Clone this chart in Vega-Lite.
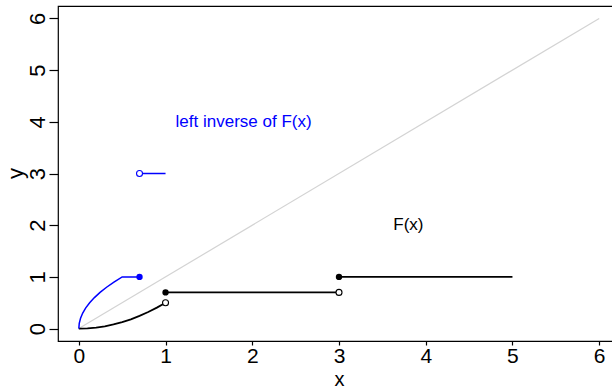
{
  "$schema": "https://vega.github.io/schema/vega-lite/v6.json",
  "autosize": "none",
  "width": 562,
  "height": 335,
  "padding": {"left": 58, "top": 6, "right": 0, "bottom": 48},
  "background": "white",
  "config": {
    "font": "Liberation Sans",
    "view": {"stroke": "black", "strokeWidth": 1.2}
  },
  "datasets": {
    "diag": [{"x": 0, "y": 0}, {"x": 6, "y": 6}],
    "curves": [
      {"x": 0, "y": 0, "series": "F", "piece": "F1"},
      {"x": 0.1, "y": 0.005, "series": "F", "piece": "F1"},
      {"x": 0.2, "y": 0.02, "series": "F", "piece": "F1"},
      {"x": 0.3, "y": 0.045, "series": "F", "piece": "F1"},
      {"x": 0.4, "y": 0.08, "series": "F", "piece": "F1"},
      {"x": 0.5, "y": 0.125, "series": "F", "piece": "F1"},
      {"x": 0.6, "y": 0.18, "series": "F", "piece": "F1"},
      {"x": 0.7, "y": 0.245, "series": "F", "piece": "F1"},
      {"x": 0.8, "y": 0.32, "series": "F", "piece": "F1"},
      {"x": 0.9, "y": 0.405, "series": "F", "piece": "F1"},
      {"x": 1.0, "y": 0.5, "series": "F", "piece": "F1"},
      {"x": 1, "y": 0.7, "series": "F", "piece": "F2"},
      {"x": 3, "y": 0.7, "series": "F", "piece": "F2"},
      {"x": 3, "y": 1, "series": "F", "piece": "F3"},
      {"x": 5, "y": 1, "series": "F", "piece": "F3"},
      {"x": 0, "y": 0, "series": "left inverse", "piece": "G1"},
      {"x": 0.005, "y": 0.1, "series": "left inverse", "piece": "G1"},
      {"x": 0.02, "y": 0.2, "series": "left inverse", "piece": "G1"},
      {"x": 0.045, "y": 0.3, "series": "left inverse", "piece": "G1"},
      {"x": 0.08, "y": 0.4, "series": "left inverse", "piece": "G1"},
      {"x": 0.125, "y": 0.5, "series": "left inverse", "piece": "G1"},
      {"x": 0.18, "y": 0.6, "series": "left inverse", "piece": "G1"},
      {"x": 0.245, "y": 0.7, "series": "left inverse", "piece": "G1"},
      {"x": 0.32, "y": 0.8, "series": "left inverse", "piece": "G1"},
      {"x": 0.405, "y": 0.9, "series": "left inverse", "piece": "G1"},
      {"x": 0.5, "y": 1.0, "series": "left inverse", "piece": "G1"},
      {"x": 0.7, "y": 1.0, "series": "left inverse", "piece": "G1"},
      {"x": 0.7, "y": 3, "series": "left inverse", "piece": "G2"},
      {"x": 1.0, "y": 3, "series": "left inverse", "piece": "G2"}
    ],
    "points": [
      {"x": 1, "y": 0.5, "series": "F", "closed": false},
      {"x": 1, "y": 0.7, "series": "F", "closed": true},
      {"x": 3, "y": 0.7, "series": "F", "closed": false},
      {"x": 3, "y": 1, "series": "F", "closed": true},
      {"x": 0.7, "y": 1, "series": "left inverse", "closed": true},
      {"x": 0.7, "y": 3, "series": "left inverse", "closed": false}
    ],
    "labels": [
      {"x": 1.9, "y": 4, "label": "left inverse of F(x)", "series": "left inverse"},
      {"x": 3.8, "y": 2, "label": "F(x)", "series": "F"}
    ]
  },
  "encoding": {
    "x": {"field": "x", "type": "quantitative", "scale": {"domain": [-0.24, 6.24], "nice": false, "zero": false},
      "axis": {"values": [0, 1, 2, 3, 4, 5, 6], "title": "x", "grid": false, "domain": false, "tickColor": "black", "tickWidth": 1.2, "tickSize": 4,
        "labelFont": "Liberation Sans", "labelFontSize": 21, "labelColor": "black", "labelPadding": 0, "labelFlush": false, "labelOverlap": false,
        "titleFont": "Liberation Sans", "titleFontSize": 20, "titleFontWeight": "normal", "titleColor": "black", "titleY": 44, "titleBaseline": "alphabetic"}},
    "y": {"field": "y", "type": "quantitative", "scale": {"domain": [-0.24, 6.24], "nice": false, "zero": false},
      "axis": {"values": [0, 1, 2, 3, 4, 5, 6], "title": "y", "grid": false, "domain": false, "tickColor": "black", "tickWidth": 1.2, "tickSize": 9,
        "labelFont": "Liberation Sans", "labelFontSize": 22, "labelColor": "black", "labelAngle": -90, "labelAlign": "center", "labelBaseline": "alphabetic", "labelPadding": 5, "labelFlush": false, "labelOverlap": false,
        "titleFont": "Liberation Sans", "titleFontSize": 22, "titleFontWeight": "normal", "titleColor": "black", "titleX": -36, "titleY": 167, "titleAngle": -90, "titleAlign": "center", "titleBaseline": "alphabetic"}}
  },
  "layer": [
    {
      "data": {"name": "diag"},
      "mark": {"type": "line", "color": "#d3d3d3", "strokeWidth": 1.2}
    },
    {
      "data": {"name": "curves"},
      "mark": {"type": "line"},
      "encoding": {
        "detail": {"field": "piece"},
        "color": {"field": "series", "type": "nominal", "scale": {"domain": ["F", "left inverse"], "range": ["#000000", "#0000ff"]}, "legend": null},
        "strokeWidth": {"field": "series", "type": "nominal", "scale": {"domain": ["F", "left inverse"], "range": [1.8, 1.5]}, "legend": null}
      }
    },
    {
      "data": {"name": "points"},
      "transform": [{"filter": "datum.closed"}],
      "mark": {"type": "circle", "size": 40, "opacity": 1},
      "encoding": {
        "color": {"field": "series", "type": "nominal", "scale": {"domain": ["F", "left inverse"], "range": ["#000000", "#0000ff"]}, "legend": null}
      }
    },
    {
      "data": {"name": "points"},
      "transform": [{"filter": "!datum.closed"}],
      "mark": {"type": "point", "shape": "circle", "size": 36, "filled": false, "fill": "white", "fillOpacity": 1, "opacity": 1, "strokeWidth": 1.1},
      "encoding": {
        "stroke": {"field": "series", "type": "nominal", "scale": {"domain": ["F", "left inverse"], "range": ["#000000", "#0000ff"]}, "legend": null}
      }
    },
    {
      "data": {"name": "labels"},
      "mark": {"type": "text", "font": "Liberation Sans", "fontSize": 17, "align": "center", "baseline": "middle"},
      "encoding": {
        "text": {"field": "label"},
        "color": {"field": "series", "type": "nominal", "scale": {"domain": ["F", "left inverse"], "range": ["#000000", "#0000ff"]}, "legend": null}
      }
    }
  ]
}
